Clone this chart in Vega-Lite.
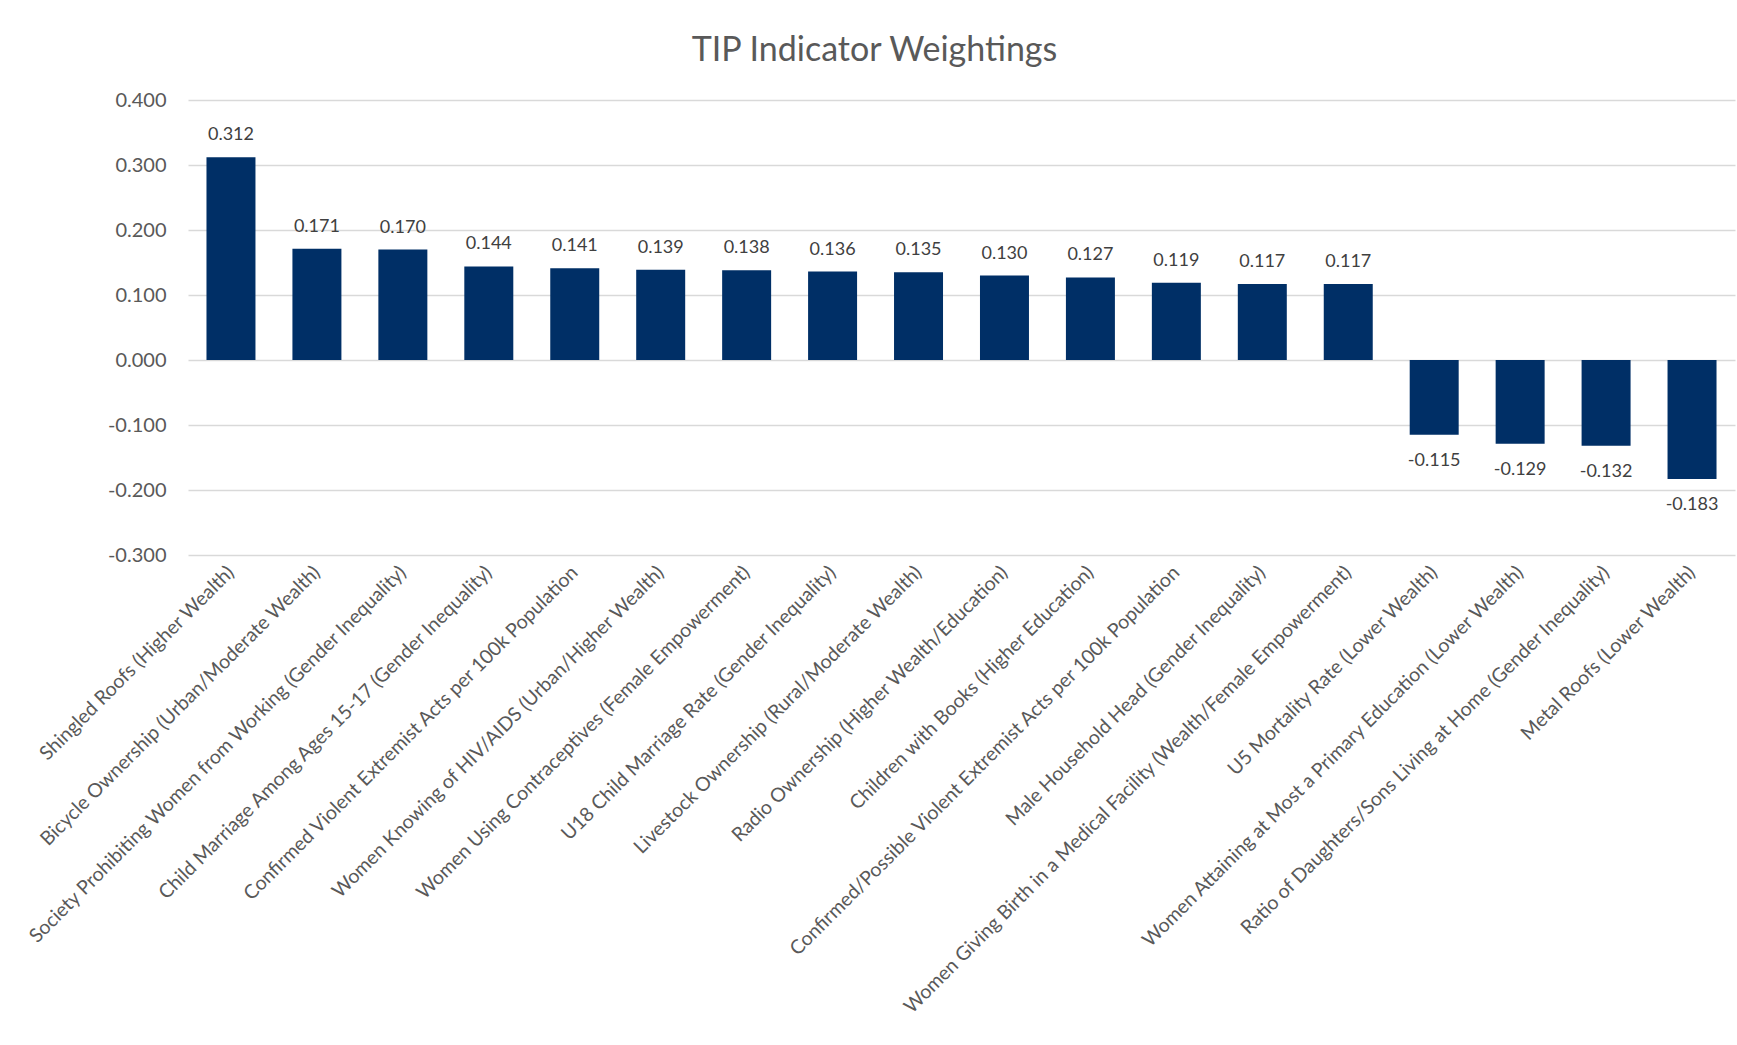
{
  "$schema": "https://vega.github.io/schema/vega-lite/v6.json",
  "width": 1547,
  "height": 455,
  "autosize": {"type": "none"},
  "padding": {"left": 188, "top": 100, "right": 2, "bottom": 490},
  "background": "white",
  "title": {
    "text": "TIP Indicator Weightings",
    "fontSize": 34,
    "font": "Lato",
    "fontWeight": "normal",
    "color": "#595959",
    "anchor": "middle",
    "dx": -87,
    "dy": 44,
    "offset": 39,
    "baseline": "alphabetic"
  },
  "config": {
    "locale": {
      "number": {"decimal": ".", "thousands": ",", "grouping": [3], "currency": ["$", ""], "minus": "-"}
    },
    "view": {"stroke": null},
    "font": "Lato"
  },
  "data": {
    "values": [
      {"indicator": "Shingled Roofs (Higher Wealth)", "weight": 0.312},
      {"indicator": "Bicycle Ownership (Urban/Moderate Wealth)", "weight": 0.171},
      {"indicator": "Society Prohibiting Women from Working (Gender Inequality)", "weight": 0.170},
      {"indicator": "Child Marriage Among Ages 15-17 (Gender Inequality)", "weight": 0.144},
      {"indicator": "Confirmed Violent Extremist Acts per 100k Population", "weight": 0.141},
      {"indicator": "Women Knowing of HIV/AIDS (Urban/Higher Wealth)", "weight": 0.139},
      {"indicator": "Women Using Contraceptives (Female Empowerment)", "weight": 0.138},
      {"indicator": "U18 Child Marriage Rate (Gender Inequality)", "weight": 0.136},
      {"indicator": "Livestock Ownership (Rural/Moderate Wealth)", "weight": 0.135},
      {"indicator": "Radio Ownership (Higher Wealth/Education)", "weight": 0.130},
      {"indicator": "Children with Books (Higher Education)", "weight": 0.127},
      {"indicator": "Confirmed/Possible Violent Extremist Acts per 100k Population", "weight": 0.119},
      {"indicator": "Male Household Head (Gender Inequality)", "weight": 0.117},
      {"indicator": "Women Giving Birth in a Medical Facility (Wealth/Female Empowerment)", "weight": 0.117},
      {"indicator": "U5 Mortality Rate (Lower Wealth)", "weight": -0.115},
      {"indicator": "Women Attaining at Most a Primary Education (Lower Wealth)", "weight": -0.129},
      {"indicator": "Ratio of Daughters/Sons Living at Home (Gender Inequality)", "weight": -0.132},
      {"indicator": "Metal Roofs (Lower Wealth)", "weight": -0.183}
    ]
  },
  "encoding": {
    "x": {
      "field": "indicator",
      "type": "nominal",
      "sort": null,
      "title": null,
      "scale": {"paddingInner": 0.43, "paddingOuter": 0.215},
      "axis": {
        "labelAngle": -45,
        "labelAlign": "right",
        "labelBaseline": "middle",
        "labelFontSize": 19.5,
        "labelColor": "#595959",
        "labelPadding": 14,
        "labelLimit": 1000,
        "ticks": false,
        "domain": false,
        "grid": false
      }
    }
  },
  "layer": [
    {
      "mark": {"type": "bar", "color": "#002F66"},
      "encoding": {
        "y": {
          "field": "weight",
          "type": "quantitative",
          "title": null,
          "scale": {"domain": [-0.3, 0.4], "nice": false},
          "axis": {
            "values": [-0.3, -0.2, -0.1, 0, 0.1, 0.2, 0.3, 0.4],
            "format": ".3f",
            "labelFontSize": 20,
            "labelColor": "#595959",
            "labelPadding": 22,
            "ticks": false,
            "domain": false,
            "gridColor": "#d9d9d9",
            "gridWidth": 1.5
          }
        }
      }
    },
    {
      "transform": [{"filter": "datum.weight >= 0"}],
      "mark": {"type": "text", "dy": -22, "baseline": "middle", "fontSize": 18, "color": "#404040"},
      "encoding": {
        "y": {"field": "weight", "type": "quantitative"},
        "text": {"field": "weight", "type": "quantitative", "format": ".3f"}
      }
    },
    {
      "transform": [{"filter": "datum.weight < 0"}],
      "mark": {"type": "text", "dy": 26, "baseline": "middle", "fontSize": 18, "color": "#404040"},
      "encoding": {
        "y": {"field": "weight", "type": "quantitative"},
        "text": {"field": "weight", "type": "quantitative", "format": ".3f"}
      }
    }
  ]
}
